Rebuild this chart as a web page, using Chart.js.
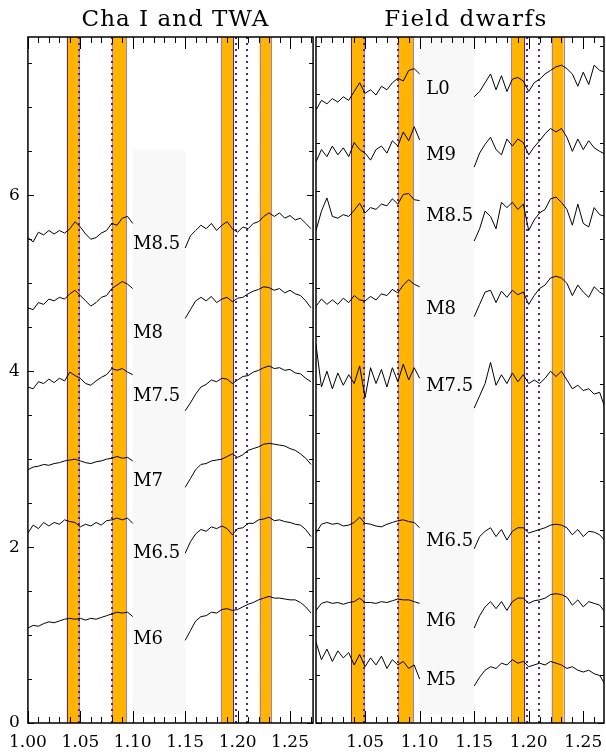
<!DOCTYPE html>
<html>
<head>
<meta charset="utf-8">
<title>Cha I and TWA / Field dwarfs</title>
<script src="https://cdn.jsdelivr.net/npm/chart.js@4.4.0/dist/chart.umd.min.js"></script>
<style>
  html, body { margin: 0; padding: 0; background: #fff; }
  #wrap { position: relative; width: 606px; height: 756px; }
  .panel { position: absolute; top: 0; height: 756px; }
  #left { left: 0; width: 320px; }
  #right { left: 300px; width: 306px; }
</style>
</head>
<body>
<div id="wrap">
  <div class="panel" id="left"><canvas id="chart01"></canvas></div>
  <div class="panel" id="right"><canvas id="chart02"></canvas></div>
</div>
<script>
// wavelength grids (micron): short side and long side of the telluric gap
const WAVE_A = [1.000, 1.005, 1.010, 1.015, 1.020, 1.025, 1.030, 1.035, 1.040, 1.045, 1.050,
                1.055, 1.060, 1.065, 1.070, 1.075, 1.080, 1.085, 1.090, 1.095, 1.100];
const WAVE_B = [1.150, 1.155, 1.160, 1.165, 1.170, 1.175, 1.180, 1.185, 1.190, 1.195, 1.200, 1.205,
                1.210, 1.215, 1.220, 1.225, 1.230, 1.235, 1.240, 1.245, 1.250, 1.255, 1.260, 1.265, 1.270];

// index windows and extra marker lines
const BANDS = [[1.037, 1.049], [1.080, 1.094], [1.184, 1.196], [1.221, 1.232]];
const DOTTED = [1.049, 1.080, 1.198, 1.209];
const GAP = [1.0996, 1.1500];

// Cha I and TWA spectra (offset flux)
const chaM85a = [5.52, 5.47, 5.58, 5.55, 5.60, 5.56, 5.60, 5.57, 5.62, 5.70, 5.64, 5.56, 5.50, 5.52, 5.57, 5.60, 5.68, 5.66, 5.74, 5.76, 5.68];
const chaM85b = [5.40, 5.54, 5.60, 5.66, 5.62, 5.68, 5.60, 5.66, 5.70, 5.62, 5.58, 5.64, 5.62, 5.68, 5.70, 5.76, 5.80, 5.76, 5.80, 5.74, 5.77, 5.72, 5.74, 5.68, 5.62];
const chaM8a = [4.72, 4.70, 4.78, 4.76, 4.82, 4.80, 4.84, 4.82, 4.88, 4.92, 4.86, 4.80, 4.74, 4.78, 4.84, 4.86, 4.94, 4.98, 5.02, 4.99, 4.94];
const chaM8b = [4.60, 4.70, 4.80, 4.84, 4.80, 4.85, 4.78, 4.82, 4.84, 4.79, 4.83, 4.84, 4.88, 4.91, 4.93, 4.96, 4.95, 4.92, 4.94, 4.89, 4.92, 4.88, 4.86, 4.80, 4.72];
const chaM75a = [3.82, 3.80, 3.88, 3.86, 3.91, 3.87, 3.92, 3.89, 3.99, 3.95, 3.92, 3.86, 3.84, 3.89, 3.93, 3.96, 4.03, 4.01, 4.03, 3.99, 3.96];
const chaM75b = [3.55, 3.64, 3.74, 3.82, 3.85, 3.90, 3.88, 3.92, 3.91, 3.86, 3.90, 3.94, 3.95, 3.99, 4.01, 4.04, 4.06, 4.03, 4.04, 4.01, 4.02, 3.98, 3.97, 3.92, 3.88];
const chaM7a = [2.88, 2.91, 2.92, 2.94, 2.93, 2.95, 2.96, 2.98, 2.99, 3.00, 2.98, 2.96, 2.95, 2.97, 2.98, 3.00, 3.01, 3.03, 3.01, 3.02, 2.98];
const chaM7b = [2.68, 2.78, 2.88, 2.94, 2.95, 2.98, 2.99, 3.00, 3.03, 3.06, 3.02, 3.05, 3.10, 3.12, 3.14, 3.17, 3.18, 3.17, 3.16, 3.15, 3.12, 3.10, 3.06, 3.01, 2.94];
const chaM65a = [2.16, 2.25, 2.21, 2.28, 2.24, 2.28, 2.26, 2.31, 2.29, 2.28, 2.23, 2.26, 2.24, 2.28, 2.25, 2.30, 2.31, 2.33, 2.31, 2.33, 2.27];
const chaM65b = [1.93, 2.06, 2.15, 2.20, 2.18, 2.23, 2.21, 2.24, 2.21, 2.14, 2.21, 2.22, 2.27, 2.27, 2.31, 2.32, 2.34, 2.30, 2.31, 2.29, 2.28, 2.26, 2.25, 2.20, 2.12];
const chaM6a = [1.08, 1.11, 1.10, 1.13, 1.15, 1.14, 1.16, 1.18, 1.19, 1.18, 1.19, 1.17, 1.19, 1.18, 1.20, 1.22, 1.24, 1.26, 1.25, 1.26, 1.21];
const chaM6b = [0.94, 1.05, 1.16, 1.21, 1.22, 1.26, 1.25, 1.29, 1.30, 1.28, 1.29, 1.32, 1.35, 1.37, 1.40, 1.42, 1.44, 1.42, 1.42, 1.41, 1.40, 1.40, 1.37, 1.32, 1.25];

// field dwarf spectra (offset flux)
const fldL0a = [6.95, 6.97, 7.08, 7.04, 7.10, 7.06, 7.12, 7.08, 7.18, 7.28, 7.16, 7.20, 7.14, 7.24, 7.20, 7.28, 7.33, 7.30, 7.42, 7.44, 7.38];
const fldL0b = [7.12, 7.18, 7.28, 7.38, 7.20, 7.36, 7.18, 7.32, 7.34, 7.30, 7.18, 7.28, 7.32, 7.38, 7.42, 7.46, 7.48, 7.44, 7.38, 7.24, 7.40, 7.26, 7.48, 7.42, 7.40];
const fldM9a = [6.36, 6.38, 6.52, 6.44, 6.56, 6.46, 6.54, 6.44, 6.60, 6.52, 6.48, 6.40, 6.52, 6.56, 6.48, 6.62, 6.56, 6.72, 6.62, 6.78, 6.63];
const fldM9b = [6.32, 6.48, 6.58, 6.66, 6.52, 6.46, 6.64, 6.56, 6.64, 6.60, 6.46, 6.55, 6.62, 6.70, 6.76, 6.72, 6.76, 6.66, 6.50, 6.64, 6.52, 6.62, 6.54, 6.50, 6.47];
const fldM85a = [5.60, 5.60, 5.82, 5.97, 5.76, 5.74, 5.78, 5.76, 5.83, 5.91, 5.80, 5.86, 5.84, 5.90, 5.88, 5.96, 5.90, 6.01, 6.02, 5.95, 5.94];
const fldM85b = [5.48, 5.62, 5.82, 5.76, 5.62, 5.92, 5.86, 5.92, 5.84, 5.90, 5.60, 5.72, 5.80, 5.84, 5.96, 5.98, 5.92, 5.84, 5.66, 5.90, 5.68, 5.64, 5.86, 5.78, 5.76];
const fldM8a = [4.72, 4.74, 4.82, 4.76, 4.81, 4.76, 4.83, 4.78, 4.86, 4.81, 4.80, 4.85, 4.81, 4.88, 4.86, 4.93, 4.89, 4.98, 5.04, 4.99, 4.96];
const fldM8b = [4.62, 4.76, 4.90, 4.92, 4.78, 4.91, 4.84, 4.92, 4.87, 4.90, 4.76, 4.86, 4.94, 4.98, 5.06, 5.08, 5.06, 5.00, 4.86, 4.98, 4.90, 4.84, 4.96, 4.90, 4.86];
const fldM75a = [3.95, 4.30, 3.82, 4.00, 3.80, 3.98, 3.84, 3.96, 3.86, 4.06, 3.70, 4.04, 3.86, 4.02, 3.82, 4.04, 3.88, 4.08, 3.90, 4.04, 3.92];
const fldM75b = [3.58, 3.72, 3.86, 4.10, 3.84, 3.96, 3.86, 3.98, 3.88, 3.96, 3.86, 3.90, 3.86, 3.92, 4.00, 3.94, 4.00, 3.90, 3.80, 3.84, 3.78, 3.80, 3.74, 3.76, 3.58];
const fldM65a = [2.20, 2.16, 2.26, 2.28, 2.26, 2.27, 2.24, 2.25, 2.28, 2.34, 2.27, 2.26, 2.24, 2.23, 2.26, 2.28, 2.30, 2.31, 2.29, 2.28, 2.22];
const fldM65b = [1.98, 2.12, 2.18, 2.22, 2.12, 2.20, 2.08, 2.18, 2.22, 2.22, 2.16, 2.18, 2.20, 2.22, 2.25, 2.26, 2.25, 2.22, 2.14, 2.20, 2.12, 2.18, 2.17, 2.14, 2.07];
const fldM6a = [1.36, 1.28, 1.36, 1.38, 1.36, 1.37, 1.35, 1.37, 1.38, 1.42, 1.37, 1.37, 1.36, 1.38, 1.37, 1.39, 1.41, 1.40, 1.40, 1.38, 1.36];
const fldM6b = [1.08, 1.22, 1.32, 1.38, 1.30, 1.38, 1.28, 1.38, 1.42, 1.42, 1.36, 1.39, 1.40, 1.42, 1.46, 1.47, 1.46, 1.43, 1.34, 1.40, 1.32, 1.38, 1.36, 1.34, 1.26];
const fldM5a = [0.80, 0.92, 0.72, 0.84, 0.70, 0.82, 0.74, 0.80, 0.66, 0.78, 0.64, 0.74, 0.66, 0.76, 0.62, 0.72, 0.66, 0.70, 0.62, 0.66, 0.50];
const fldM5b = [0.42, 0.52, 0.60, 0.64, 0.62, 0.68, 0.66, 0.72, 0.68, 0.70, 0.64, 0.66, 0.68, 0.66, 0.70, 0.68, 0.66, 0.62, 0.64, 0.60, 0.58, 0.60, 0.56, 0.54, 0.44];

// spectral type labels and their heights
const chaTypes = ["M8.5", "M8", "M7.5", "M7", "M6.5", "M6"];
const chaLabelY = [5.44, 4.43, 3.72, 2.75, 1.93, 0.95];
const fldTypes = ["L0", "M9", "M8.5", "M8", "M7.5", "M6.5", "M6", "M5"];
const fldLabelY = [7.20, 6.45, 5.76, 4.70, 3.83, 2.06, 1.16, 0.48];

const SERIF = "'DejaVu Serif', 'Liberation Serif', serif";

function isMultiple(v, step) {
  const q = v / step;
  return Math.abs(q - Math.round(q)) < 1e-6;
}

function toPoints(a, b) {
  return WAVE_A.map((w, i) => ({ x: w, y: a[i] }))
    .concat([{ x: 1.125, y: null }])
    .concat(WAVE_B.map((w, i) => ({ x: w, y: b[i] })));
}

// orange windows, grey telluric gap, purple marker lines
const bandPlugin = {
  id: "bands",
  beforeDatasetsDraw(chart, args, opts) {
    const { ctx, chartArea: a, scales: { x, y } } = chart;
    ctx.save();
    ctx.beginPath();
    ctx.rect(a.left, a.top, a.width, a.height);
    ctx.clip();

    const g0 = x.getPixelForValue(GAP[0]);
    const g1 = x.getPixelForValue(GAP[1]);
    const gt = y.getPixelForValue(opts.gapTop);
    const gb = y.getPixelForValue(0.1);
    ctx.fillStyle = "#f8f8f8";
    ctx.fillRect(g0, gt, g1 - g0, gb - gt);

    BANDS.forEach(([l, r], i) => {
      const x0 = x.getPixelForValue(l);
      const x1 = x.getPixelForValue(r);
      ctx.fillStyle = "#ffb400";
      ctx.fillRect(x0, a.top, x1 - x0, a.height);
      ctx.lineWidth = 1;
      ctx.strokeStyle = i === 0 ? "#5a2391" : "#a67cc4";
      ctx.beginPath();
      ctx.moveTo(Math.round(x0) + 0.5, a.top);
      ctx.lineTo(Math.round(x0) + 0.5, a.bottom);
      ctx.stroke();
      ctx.strokeStyle = i === 2 ? "#5a2391" : "#a67cc4";
      ctx.beginPath();
      ctx.moveTo(Math.round(x1) + 0.5, a.top);
      ctx.lineTo(Math.round(x1) + 0.5, a.bottom);
      ctx.stroke();
    });

    ctx.strokeStyle = "#5a1e96";
    ctx.lineWidth = 2;
    ctx.setLineDash([2, 4]);
    DOTTED.forEach((w) => {
      const px = Math.round(x.getPixelForValue(w));
      ctx.beginPath();
      ctx.moveTo(px, a.top);
      ctx.lineTo(px, a.bottom);
      ctx.stroke();
    });
    ctx.restore();
  },
};

// spectral type names next to the gap
const typePlugin = {
  id: "types",
  afterDatasetsDraw(chart, args, opts) {
    const { ctx, scales: { x, y } } = chart;
    ctx.save();
    ctx.fillStyle = "#000";
    ctx.font = "18px " + SERIF;
    ctx.textAlign = "left";
    ctx.textBaseline = "middle";
    opts.names.forEach((n, i) => {
      ctx.fillText(n, x.getPixelForValue(opts.atX), y.getPixelForValue(opts.heights[i]));
    });
    ctx.restore();
  },
};

// box, inward tick marks and panel title
const framePlugin = {
  id: "frame",
  afterDraw(chart, args, opts) {
    const { ctx, chartArea: a, scales: { x, y } } = chart;
    ctx.save();
    ctx.strokeStyle = "#000";
    ctx.lineWidth = 1;
    ctx.beginPath();
    x.ticks.forEach((t) => {
      const px = Math.round(x.getPixelForValue(t.value)) + 0.5;
      const len = isMultiple(t.value, 0.05) ? 12 : 6;
      ctx.moveTo(px, a.bottom);
      ctx.lineTo(px, a.bottom - len);
      ctx.moveTo(px, a.top);
      ctx.lineTo(px, a.top + len);
    });
    y.ticks.forEach((t) => {
      const py = Math.round(y.getPixelForValue(t.value)) + 0.5;
      const len = isMultiple(t.value, 2) ? 6 : 4;
      ctx.moveTo(a.left, py);
      ctx.lineTo(a.left + len, py);
      ctx.moveTo(a.right, py);
      ctx.lineTo(a.right - len, py);
    });
    ctx.stroke();
    ctx.lineWidth = 1.5;
    ctx.strokeRect(a.left, a.top, a.right - a.left, a.bottom - a.top);

    ctx.fillStyle = "#000";
    ctx.font = "23px " + SERIF;
    ctx.letterSpacing = opts.spacing + "px";
    ctx.textAlign = "center";
    ctx.textBaseline = "alphabetic";
    ctx.fillText(opts.title, (a.left + a.right) / 2 + opts.shift, 26);
    ctx.restore();
  },
};

function drawPanel(id, spectra, p) {
  const ctx = document.getElementById(id).getContext("2d");
  const config = {
    type: "line",
    data: {
      datasets: spectra.map((s) => ({
        data: toPoints(s[0], s[1]),
        borderColor: "#000",
        borderWidth: 1,
        pointRadius: 0,
        tension: 0,
        spanGaps: false,
      })),
    },
    options: {
      responsive: true,
      maintainAspectRatio: false,
      animation: false,
      layout: { padding: { top: 37, right: p.padRight, left: 0, bottom: 0 } },
      plugins: {
        legend: { display: false },
        tooltip: { enabled: false },
        bands: { gapTop: p.gapTop },
        types: { names: p.names, heights: p.heights, atX: p.labelX },
        frame: { title: p.title, spacing: p.spacing, shift: p.shift },
      },
      scales: {
        x: {
          type: "linear",
          min: p.xMin,
          max: p.xMax,
          grid: { display: false, drawTicks: false },
          border: { display: false },
          afterFit(scale) {
            scale.height = 33;
          },
          ticks: {
            stepSize: 0.01,
            maxTicksLimit: 100,
            includeBounds: false,
            autoSkip: false,
            maxRotation: 0,
            padding: 9,
            color: "#000",
            font: { family: SERIF, size: 17 },
            callback: (v) => (isMultiple(v, 0.05) ? v.toFixed(2) : ""),
          },
        },
        y: {
          min: 0,
          max: 7.8,
          grid: { display: false, drawTicks: false },
          border: { display: false },
          afterFit(scale) {
            scale.width = p.yWidth;
          },
          ticks: {
            display: p.yLabels,
            stepSize: p.yStep,
            maxTicksLimit: 100,
            includeBounds: false,
            padding: 8,
            color: "#000",
            font: { family: SERIF, size: 17 },
            callback: (v) => (isMultiple(v, 2) ? String(v) : ""),
          },
        },
      },
    },
    plugins: [bandPlugin, typePlugin, framePlugin],
  };
  return new Chart(ctx, config);
}

drawPanel("chart01",
  [[chaM85a, chaM85b], [chaM8a, chaM8b], [chaM75a, chaM75b], [chaM7a, chaM7b], [chaM65a, chaM65b], [chaM6a, chaM6b]],
  {
    title: "Cha I and TWA", spacing: 1, shift: 5,
    xMin: 1.0, xMax: 1.272, padRight: 4, yWidth: 26, yLabels: true, yStep: 0.5,
    gapTop: 6.52, names: chaTypes, heights: chaLabelY, labelX: 1.1004,
  });

drawPanel("chart02",
  [[fldL0a, fldL0b], [fldM9a, fldM9b], [fldM85a, fldM85b], [fldM8a, fldM8b], [fldM75a, fldM75b],
   [fldM65a, fldM65b], [fldM6a, fldM6b], [fldM5a, fldM5b]],
  {
    title: "Field dwarfs", spacing: 1.5, shift: 6,
    xMin: 1.005, xMax: 1.269, padRight: 2, yWidth: 16, yLabels: false, yStep: 0.55,
    gapTop: 7.8, names: fldTypes, heights: fldLabelY, labelX: 1.106,
  });
</script>
</body>
</html>
